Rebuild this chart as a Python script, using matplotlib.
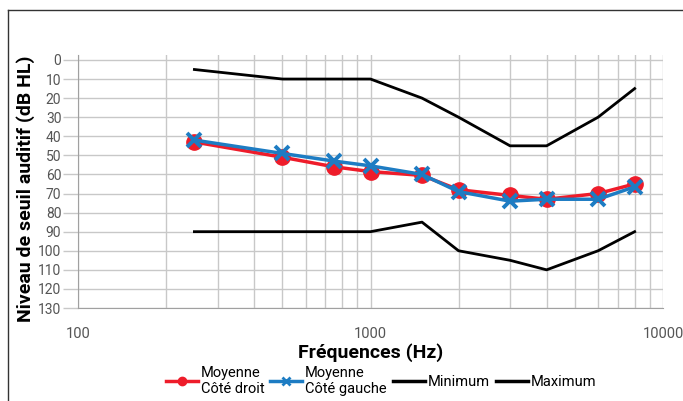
import matplotlib
matplotlib.use("Agg")
import matplotlib.pyplot as plt
from matplotlib.lines import Line2D
from matplotlib.ticker import FixedLocator, NullFormatter, FixedFormatter

plt.rcParams["font.family"] = ["Roboto", "DejaVu Sans"]

freqs = [250, 500, 750, 1000, 1500, 2000, 3000, 4000, 6000, 8000]
right_mean = [43, 51, 56, 58.5, 60.5, 68, 71, 73, 70, 65]
left_mean = [42, 49, 53, 55.5, 60, 69, 74, 73, 73, 66.5]
minimum = [5, 10, 10, 10, 20, 30, 45, 45, 30, 15]
maximum = [90, 90, 90, 90, 85, 100, 105, 110, 100, 90]

y_ticks = list(range(0, 131, 10))
x_major = [100, 1000, 10000]
x_minor = [200, 300, 400, 500, 600, 700, 800, 900,
           2000, 3000, 4000, 5000, 6000, 7000, 8000, 9000]

RED = "#ee1c2a"
BLUE = "#1d7cc3"
GRID = "#c8c8c8"

fig = plt.figure(figsize=(6.83, 4.01), dpi=100)
ax = fig.add_axes([78 / 683, 1 - 308 / 401, (663 - 78) / 683, (308 - 55) / 401])

ax.set_xscale("log")
ax.set_xlim(100, 10000)
ax.set_ylim(130, -2.6)

ax.xaxis.set_major_locator(FixedLocator(x_major))
ax.xaxis.set_minor_locator(FixedLocator(x_minor))
ax.xaxis.set_major_formatter(FixedFormatter([str(v) for v in x_major]))
ax.xaxis.set_minor_formatter(NullFormatter())
ax.set_yticks(y_ticks)

ax.grid(True, which="both", axis="x", color=GRID, linewidth=1.0)
for y in y_ticks:
    ax.axhline(y, color=GRID, linewidth=1.0, zorder=0)
ax.set_axisbelow(True)

for s in ["top", "right"]:
    ax.spines[s].set_visible(False)
ax.spines["left"].set_color("#a0a0a0")
ax.spines["bottom"].set_color("#a0a0a0")

ax.tick_params(axis="y", length=11, width=1.0, color=GRID, pad=1,
               labelsize=10, labelcolor="#555555")
ax.tick_params(axis="x", which="both", length=0, pad=14,
               labelsize=10.5, labelcolor="#555555")

ax.plot(freqs, minimum, color="black", linewidth=2.0, zorder=3)
ax.plot(freqs, maximum, color="black", linewidth=2.0, zorder=3)
ax.plot(freqs, right_mean, color=RED, linewidth=2.5, marker="o",
        markersize=11, zorder=4)
ax.plot(freqs, left_mean, color=BLUE, linewidth=2.5, marker="x",
        markersize=10, markeredgewidth=2.8, zorder=5)

ax.set_ylabel("Niveau de seuil auditif (dB HL)", fontsize=14,
              fontweight="bold")
ax.yaxis.set_label_coords((35 - 78) / 585, 0.47)
ax.set_xlabel("Fréquences (Hz)", fontsize=14, fontweight="bold", labelpad=1)

handles = [
    Line2D([], [], color=RED, linewidth=2.5, marker="o", markersize=6),
    Line2D([], [], color=BLUE, linewidth=2.5, marker="x", markersize=6,
           markeredgewidth=2),
    Line2D([], [], color="black", linewidth=2.5),
    Line2D([], [], color="black", linewidth=2.5),
]
labels = ["Moyenne\nCôté droit", "Moyenne\nCôté gauche", "Minimum", "Maximum"]
fig.legend(handles, labels, loc="center", bbox_to_anchor=(381 / 683, 1 - 381 / 401),
           ncol=4, frameon=False, fontsize=10.5, handlelength=2.2,
           handletextpad=0.2, columnspacing=0.4, labelspacing=0.0)

# frame lines at top and left of the figure
fig.add_artist(Line2D([8 / 683, 8 / 683], [0, 1 - 10 / 401], color="#333333",
                      linewidth=1.0, transform=fig.transFigure))
fig.add_artist(Line2D([8 / 683, 1], [1 - 10 / 401, 1 - 10 / 401], color="#333333",
                      linewidth=1.0, transform=fig.transFigure))

fig.savefig("out.png", dpi=100)
